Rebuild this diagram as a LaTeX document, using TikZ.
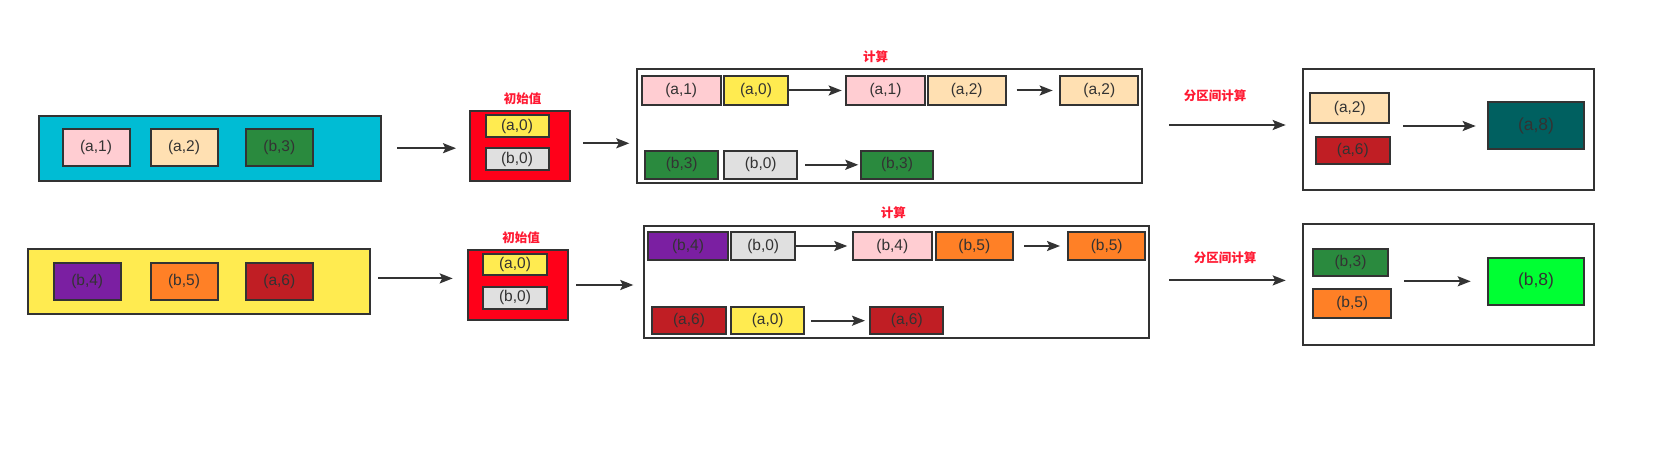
\documentclass[tikz,border=0pt]{standalone}
\usepackage{fontspec}
\setmainfont{Liberation Sans}
\newfontfamily\cjk{Noto Sans CJK SC}
\usetikzlibrary{arrows.meta,positioning}
\definecolor{borde}{HTML}{333333}
\definecolor{cian}{HTML}{00BCD4}
\definecolor{rosa}{HTML}{FFCDD2}
\definecolor{melocoton}{HTML}{FFE0B2}
\definecolor{verde}{HTML}{2A8A3E}
\definecolor{amarillo}{HTML}{FFEB50}
\definecolor{rojo}{HTML}{FF0019}
\definecolor{gris}{HTML}{E0E0E0}
\definecolor{morado}{HTML}{7B1FA2}
\definecolor{naranja}{HTML}{FF8026}
\definecolor{granate}{HTML}{C01E24}
\definecolor{petroleo}{HTML}{006060}
\definecolor{lima}{HTML}{00FF33}
\definecolor{rotulo}{HTML}{FF1A33}

\begin{document}
\begin{tikzpicture}[x=1pt, y=-1pt,
  marco/.style={draw=borde, line width=2pt, inner sep=0pt, outer sep=0pt},
  caja/.style={marco, text=borde, font=\fontsize{15.5}{18}\selectfont},
  peq/.style={caja, minimum width=67pt, minimum height=37pt},
  ini/.style={caja, minimum width=63pt, minimum height=22pt},
  cal/.style={caja, minimum width=78pt, minimum height=29pt},
  res/.style={caja, minimum width=76pt, minimum height=28.5pt},
  fin/.style={caja, minimum width=96.6pt, minimum height=47pt, font=\fontsize{17.5}{20}\selectfont},
  etiq/.style={text=rotulo, inner sep=0pt, font=\cjk\bfseries\fontsize{12.5}{14}\selectfont},
  flecha/.style={-{Stealth[length=13pt, width=10pt, inset=2.5pt]}, borde, line width=2pt}]
\useasboundingbox (0,0) rectangle (1654,457);

% fila a
\node[marco, fill=cian, minimum width=342pt, minimum height=65pt] (ent1) at (209.7,148.2) {};
\node[peq, fill=rosa] (e1a1) at (96,147.3) {(a,1)};
\node[peq, fill=melocoton] (e1a2) at (184,147.3) {(a,2)};
\node[peq, fill=verde] (e1b3) at (279.3,147.3) {(b,3)};

\node[marco, fill=rojo, minimum width=100pt, minimum height=70pt] (ini1) at (520,145.8) {};
\node[etiq] (t1ini) at (522.7,98.3) {初始值};
\node[ini, fill=amarillo] (i1a0) at (517,126) {(a,0)};
\node[ini, fill=gris] (i1b0) at (517,159) {(b,0)};

\node[marco, minimum width=505pt, minimum height=113.4pt] (cal1) at (889.8,126) {};
\node[etiq] (t1cal) at (875.7,56.7) {计算};
\node[cal, fill=rosa, minimum width=79pt] (c1a1) at (681.2,90.5) {(a,1)};
\node[cal, fill=amarillo, minimum width=63.4pt] (c1a0) at (756,90.5) {(a,0)};
\node[cal, fill=rosa, minimum width=79.6pt] (c1a1b) at (885.5,90.5) {(a,1)};
\node[cal, fill=melocoton] (c1a2) at (966.7,90.5) {(a,2)};
\node[cal, fill=melocoton] (c1a2b) at (1099.3,90.5) {(a,2)};
\node[cal, fill=verde, minimum width=73.3pt, minimum height=28.3pt] (c1b3) at (681.7,164.8) {(b,3)};
\node[cal, fill=gris, minimum width=73.3pt, minimum height=28.3pt] (c1b0) at (760.7,164.8) {(b,0)};
\node[cal, fill=verde, minimum width=72.6pt, minimum height=28.3pt] (c1b3b) at (897,164.8) {(b,3)};

\node[marco, minimum width=291.6pt, minimum height=121pt] (res1) at (1448.5,129.5) {};
\node[etiq] (t1res) at (1215,96) {分区间计算};
\node[res, fill=melocoton, minimum width=79pt, minimum height=29.7pt] (r1a2) at (1349.8,108.2) {(a,2)};
\node[res, fill=granate, minimum width=74.3pt, minimum height=27.3pt] (r1a6) at (1352.8,150.3) {(a,6)};
\node[fin, fill=petroleo] (r1a8) at (1536,126) {(a,8)};
\coordinate (r1m) at (r1a6.east |- r1a8.west);

\draw[flecha, shorten <=16.6pt, shorten >=14pt] (ent1.east) -- (ent1.east -| ini1.west);
\draw[flecha, shorten <=13.3pt, shorten >=8pt] ([yshift=2.5pt]ini1.east) -- ([yshift=2.5pt]ini1.east -| cal1.west);
\draw[flecha, shorten >=4pt] (c1a0) -- (c1a1b);
\draw[flecha, shorten <=11pt, shorten >=7.6pt] (c1a2) -- (c1a2b);
\draw[flecha, shorten <=7.7pt, shorten >=2.4pt] (c1b0) -- (c1b3b);
\draw[flecha, shorten <=26.7pt, shorten >=17pt] ([yshift=1pt]cal1.east) -- ([yshift=1pt]cal1.east -| res1.west);
\draw[flecha, shorten <=13.3pt, shorten >=12pt] (r1m) -- (r1a8);

% fila b
\node[marco, fill=amarillo, minimum width=342.3pt, minimum height=65pt] (ent2) at (198.8,281.2) {};
\node[peq, fill=morado] (e2b4) at (87.2,281.5) {(b,4)};
\node[peq, fill=naranja] (e2b5) at (184,281.5) {(b,5)};
\node[peq, fill=granate] (e2a6) at (279.3,281.5) {(a,6)};

\node[marco, fill=rojo, minimum width=100.6pt, minimum height=70pt] (ini2) at (518,285) {};
\node[etiq] (t2ini) at (521,237.3) {初始值};
\node[ini, fill=amarillo, minimum width=63.4pt, minimum height=21.3pt] (i2a0) at (515,264.3) {(a,0)};
\node[ini, fill=gris, minimum width=63.4pt, minimum height=22.3pt] (i2b0) at (515,297.8) {(b,0)};

\node[marco, minimum width=505pt, minimum height=112.3pt] (cal2) at (896.5,282.2) {};
\node[etiq] (t2cal) at (893.3,212.3) {计算};
\node[cal, fill=morado, minimum width=80pt, minimum height=28.6pt] (c2b4) at (688,246) {(b,4)};
\node[cal, fill=gris, minimum width=63.7pt, minimum height=28.6pt] (c2b0) at (763.2,246) {(b,0)};
\node[cal, fill=rosa, minimum width=79.3pt, minimum height=28.6pt] (c2b4b) at (892.3,246) {(b,4)};
\node[cal, fill=naranja, minimum width=76.7pt, minimum height=28.6pt] (c2b5) at (974.3,246) {(b,5)};
\node[cal, fill=naranja, minimum width=76.7pt, minimum height=28.6pt] (c2b5b) at (1106.7,246) {(b,5)};
\node[cal, fill=granate, minimum width=73.4pt, minimum height=27.3pt] (c2a6) at (689,320.7) {(a,6)};
\node[cal, fill=amarillo, minimum width=73.3pt, minimum height=27.3pt] (c2a0) at (767.7,320.7) {(a,0)};
\node[cal, fill=granate, minimum width=73pt, minimum height=27.3pt] (c2a6b) at (906.8,320.7) {(a,6)};

\node[marco, minimum width=291.6pt, minimum height=120.7pt] (res2) at (1448.5,284.7) {};
\node[etiq] (t2res) at (1225,257.3) {分区间计算};
\node[res, fill=verde, minimum width=74.4pt, minimum height=27.3pt] (r2b3) at (1350.5,262.3) {(b,3)};
\node[res, fill=naranja, minimum width=77.7pt, minimum height=29.6pt] (r2b5) at (1352.2,303.5) {(b,5)};
\node[fin, fill=lima, minimum height=47.3pt] (r2b8) at (1536,281.3) {(b,8)};
\coordinate (r2m) at (r2b5.east |- r2b8.west);

\draw[flecha, shorten <=8.3pt, shorten >=15pt] ([yshift=2.8pt]ent2.east) -- ([yshift=2.8pt]ent2.east -| ini2.west);
\draw[flecha, shorten <=7.7pt, shorten >=10.7pt] (ini2.east) -- (ini2.east -| cal2.west);
\draw[flecha, shorten >=5.4pt] (c2b0) -- (c2b4b);
\draw[flecha, shorten <=11.6pt, shorten >=8.3pt] (c2b5) -- (c2b5b);
\draw[flecha, shorten <=6.7pt, shorten >=5.3pt] (c2a0) -- (c2a6b);
\draw[flecha, shorten <=20pt, shorten >=17pt] ([yshift=1.8pt]cal2.east) -- ([yshift=1.8pt]cal2.east -| res2.west);
\draw[flecha, shorten <=13pt, shorten >=17pt] (r2m) -- (r2b8);
\end{tikzpicture}
\end{document}
